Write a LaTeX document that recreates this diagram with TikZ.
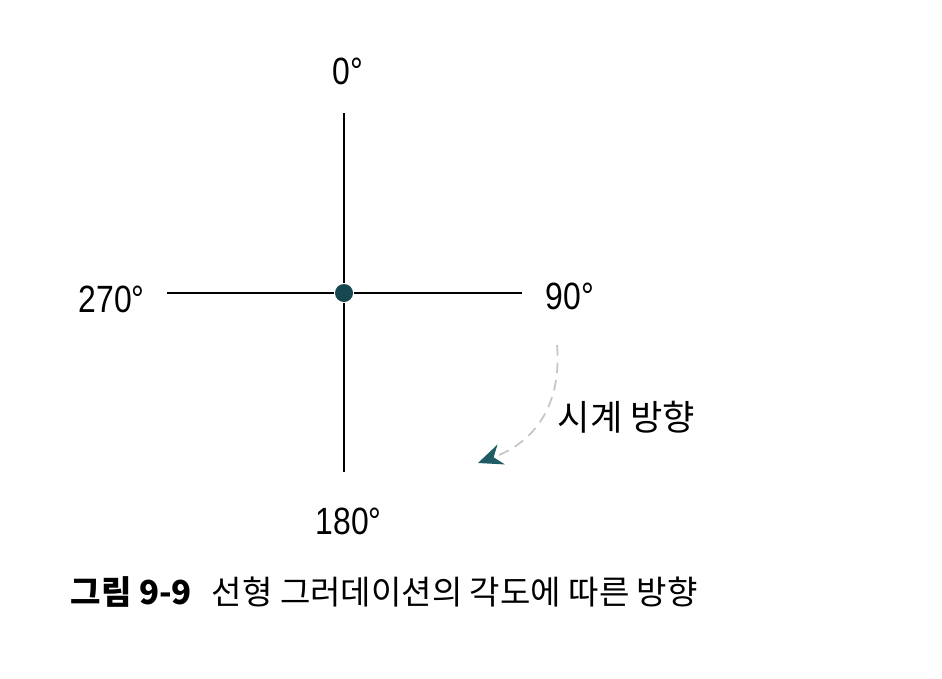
\documentclass[tikz,border=0pt]{standalone}
\usepackage{fontspec}
\setmainfont{Liberation Sans}
\newfontfamily\kofont{Noto Sans CJK KR}
\usetikzlibrary{arrows.meta}
\definecolor{dotteal}{HTML}{17484F}
\definecolor{arrowteal}{HTML}{1F5C66}

\begin{document}
\begin{tikzpicture}[
  x=0.01cm, y=-0.01cm,
  axis/.style={line width=0.65pt},
  deg/.style={font=\fontsize{10.8}{12}\selectfont, inner sep=0pt, anchor=base west, xscale=0.84},
  ko/.style={font=\kofont\fontsize{10}{12}\selectfont, inner sep=0pt, anchor=base west},
  turn/.style={densely dashed, gray!45, line width=0.5pt,
    -{Stealth[length=7pt, width=6pt, color=arrowteal]}}
]
\useasboundingbox (0,0) rectangle (942,678);
% axes
\node[circle, fill=dotteal, inner sep=0pt, minimum size=0.18cm] (center) at (344,293) {};
\coordinate (top) at (344,113);
\coordinate (bottom) at (344,472);
\coordinate (left) at (167,293);
\coordinate (right) at (522,293);
\draw[axis] (top) -- (center) -- (bottom);
\draw[axis] (left) -- (center) -- (right);
% angle labels
\node[deg] (north) at (332,84) {0°};
\node[deg] (east) at (545,309) {90°};
\node[deg] (south) at (315,534) {180°};
\node[deg] (west) at (78,312) {270°};
% clockwise hint
\coordinate (turnstart) at (557,345);
\coordinate (turnend) at (478,463);
\draw[turn] (turnstart) .. controls (562,405) and (535,442) .. (turnend);
\node[ko] (cw) at (557,430) {시계 방향};
% caption
\node[ko, font=\kofont\fontsize{9.4}{11}\selectfont] (caption) at (70,604) {{\bfseries 그림 9-9}\hspace{0.6em}선형 그러데이션의 각도에 따른 방향};
\end{tikzpicture}
\end{document}
